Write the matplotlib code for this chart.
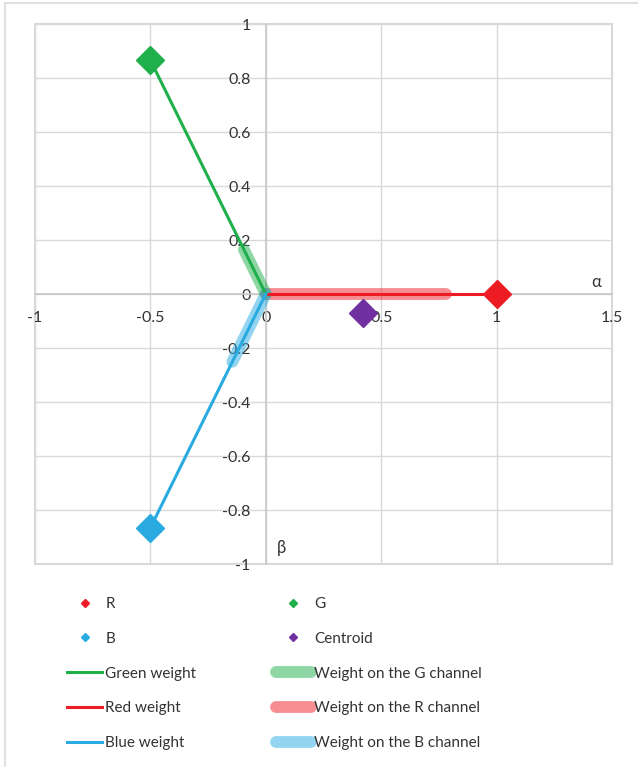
import numpy as np
import matplotlib
matplotlib.use("Agg")
import matplotlib.pyplot as plt
from matplotlib.lines import Line2D

plt.rcParams['font.family'] = ['Lato', 'DejaVu Sans']
plt.rcParams['axes.unicode_minus'] = False

# colour vertices on the alpha/beta plane
vertex_names = ['R', 'G', 'B']
vertex_alpha = [1.0, -0.5, -0.5]
vertex_beta = [0.0, 0.866, -0.866]

# weight carried by each channel (fraction of the way to its vertex)
channel_weights = [0.78, 0.19, 0.29]

centroid_alpha = 0.42
centroid_beta = -0.07

x_ticks = [-1, -0.5, 0, 0.5, 1, 1.5]
x_ticklabels = ['-1', '-0.5', '0', '0.5', '1', '1.5']
y_ticks = [-1, -0.8, -0.6, -0.4, -0.2, 0, 0.2, 0.4, 0.6, 0.8, 1]
y_ticklabels = ['-1', '-0.8', '-0.6', '-0.4', '-0.2', '0', '0.2', '0.4', '0.6', '0.8', '1']

colors = {'R': '#ED1C24', 'G': '#1FAF4B', 'B': '#29ABE2'}
weight_names = {'R': 'Red weight', 'G': 'Green weight', 'B': 'Blue weight'}
grid_col = '#d9d9d9'
text_col = '#333333'

fig = plt.figure(figsize=(6.38, 7.67), dpi=100)
ax = fig.add_axes([35 / 638, 1 - 564 / 767, 577 / 638, 540 / 767])

ax.set_xlim(-1, 1.5)
ax.set_ylim(-1, 1)
ax.set_xticks(x_ticks)
ax.set_xticklabels(x_ticklabels)
ax.set_yticks(y_ticks)
ax.set_yticklabels(y_ticklabels)
ax.grid(True, color=grid_col, linewidth=1.0)
ax.set_axisbelow(True)
ax.patch.set_edgecolor(grid_col)
ax.patch.set_linewidth(1.5)

# axes crossing at the origin
for side in ['top', 'right']:
    ax.spines[side].set_visible(False)
ax.spines['left'].set_position(('data', 0))
ax.spines['bottom'].set_position(('data', 0))
for side in ['left', 'bottom']:
    ax.spines[side].set_color('#c8c8c8')
    ax.spines[side].set_linewidth(1.2)
ax.tick_params(axis='both', length=0, labelsize=11.5, labelcolor=text_col)
ax.tick_params(axis='x', pad=12)
ax.tick_params(axis='y', pad=11)

handles = {}

# thick translucent bars: weight on each channel
for name, a, b, w in zip(vertex_names, vertex_alpha, vertex_beta, channel_weights):
    ln, = ax.plot([0, a * w], [0, b * w], color=colors[name], alpha=0.5,
                  linewidth=8.5, solid_capstyle='round', zorder=3)
    handles['Weight on the %s channel' % name] = ln

# thin lines from origin to each vertex
for name, a, b in zip(vertex_names, vertex_alpha, vertex_beta):
    ln, = ax.plot([a, 0], [b, 0], color=colors[name], linewidth=2.2, zorder=4)
    handles[weight_names[name]] = ln

for name, a, b in zip(vertex_names, vertex_alpha, vertex_beta):
    ax.plot(a, b, 'D', color=colors[name], markersize=14, zorder=5)
    handles[name] = Line2D([], [], marker='D', linestyle='none',
                           color=colors[name], markersize=4.5)

ax.plot(centroid_alpha, centroid_beta, 'D', color='#7030A0', markersize=14, zorder=5)
handles['Centroid'] = Line2D([], [], marker='D', linestyle='none',
                             color='#7030A0', markersize=4.5)

ax.text(1.43, 0.045, 'α', fontsize=12, color=text_col, ha='center', va='center')
ax.text(0.07, -0.94, 'β', fontsize=12, color=text_col, ha='center', va='center')

order = ['R', 'B', 'Green weight', 'Red weight', 'Blue weight',
         'G', 'Centroid', 'Weight on the G channel', 'Weight on the R channel',
         'Weight on the B channel']
leg = fig.legend([handles[k] for k in order], order, ncol=2,
                 loc='upper left', bbox_to_anchor=(67 / 638, 1 - 597 / 767),
                 frameon=False, fontsize=11, labelcolor=text_col,
                 handlelength=2.3, handletextpad=0.2, labelspacing=1.36,
                 columnspacing=5.2, borderpad=0, borderaxespad=0)

# outer chart frame
fig.add_artist(Line2D([5 / 638, 1], [1 - 3 / 767, 1 - 3 / 767],
                      transform=fig.transFigure, color='#e0e0e0', linewidth=1.5))
fig.add_artist(Line2D([5 / 638, 5 / 638], [0, 1 - 3 / 767],
                      transform=fig.transFigure, color='#e0e0e0', linewidth=1.5))

fig.savefig('out.png', dpi=100)
